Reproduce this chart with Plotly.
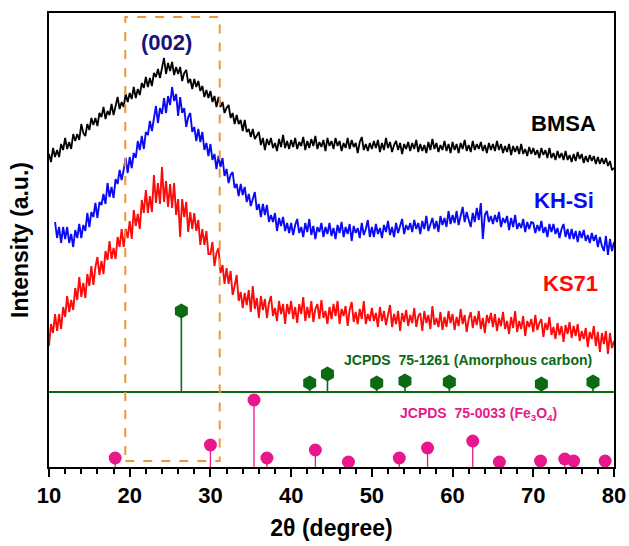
import plotly.graph_objects as go

# ---------------- data ----------------
SCAN_START = 10.0     # 2theta of first BMSA / KS71 sample
KHSI_START = 10.75    # KH-Si scan starts a bit later
SCAN_STEP = 0.25

bmsa = (
    [313,305,319,310,317,310,323,317,329,318,325,318,333,326,333,327,343,334,331,343]
  + [337,349,342,349,341,354,350,360,348,356,352,363,352,363,370,358,365,360,373,365]
  + [374,368,380,369,378,372,384,379,390,380,389,381,394,390,398,389,399,409,393,404]
  + [396,405,392,400,393,400,386,394,397,384,388,378,388,380,386,376,381,370,377,369]
  + [376,365,371,360,370,360,365,354,359,362,349,354,343,352,343,347,336,347,335,338]
  + [330,338,328,332,335,322,329,317,328,322,329,319,324,316,328,320,332,319,326,318]
  + [327,320,329,318,325,321,330,317,326,319,328,321,331,318,325,320,327,316,329,321]
  + [326,318,329,321,326,316,324,319,329,318,327,320,324,314,325,330,317,323,316,324]
  + [318,326,319,327,315,324,317,329,319,325,315,322,326,317,324,313,323,318,325,316]
  + [324,318,327,315,323,316,322,314,325,317,328,318,324,315,322,317,326,316,323,314]
  + [325,317,323,314,324,318,327,316,322,315,326,317,323,318,325,316,322,314,324,317]
  + [323,316,326,317,323,314,321,315,323,312,321,315,321,313,323,313,318,311,320,313]
  + [319,312,317,309,319,312,317,309,319,309,314,307,316,309,314,307,316,307,312,305]
  + [313,306,315,308,313,304,311,305,312,306,311,303,310,303,309,303,309,301,306,297]
  + [299]
)

khsi = (
    [245,229,240,224,240,228,240,224,233,220,237,229,243,229,242,236,254]
  + [240,255,250,264,249,265,262,273,263,284,270,280,269,288,283,297,287,297,309,294]
  + [310,299,314,309,326,317,331,318,335,332,346,336,347,361,344,359,353,369,354,371]
  + [362,380,366,373,351,370,354,359,340,350,354,335,340,326,338,325,335,317,324,311]
  + [323,307,313,298,311,300,309,291,298,284,292,295,279,283,271,283,272,280,265,273]
  + [261,269,275,257,263,250,263,252,262,245,252,245,254,236,249,241,250,236,244,234]
  + [244,232,242,248,234,240,230,244,235,248,232,241,228,240,235,244,230,240,233,244]
  + [231,239,228,242,234,245,230,240,233,243,226,241,234,239,229,244,232,238,247,230]
  + [240,230,243,233,239,229,242,235,246,232,240,230,244,234,240,248,233,242,237,244]
  + [235,247,238,244,233,246,238,251,236,244,249,238,246,235,251,242,249,240,256,243]
  + [252,244,256,242,251,260,245,255,247,240,254,245,259,247,264,228,252,256,245,251]
  + [243,252,245,255,240,249,244,251,237,249,240,252,238,244,239,248,235,245,238,245]
  + [244,234,242,236,246,234,240,230,243,235,243,233,239,229,238,243,230,238,228,238]
  + [228,236,225,236,229,237,226,232,224,234,226,232,220,230,221,216,231,212,228,216]
  + [225]
)

ks71 = (
    [121,143,134,153,136,153,138,160,150,171,155,167,157,179,167,190,170,184,169,193]
  + [181,201,182,200,210,192,206,193,216,207,226,208,219,208,230,220,238,220,238,229]
  + [246,228,257,241,253,238,267,254,277,254,271,255,292,264,284,263,300,265,286,260]
  + [283,259,284,252,268,230,268,250,265,235,255,238,254,236,247,222,238,222,236,213]
  + [213,225,201,214,219,194,202,183,199,183,196,172,181,192,166,175,159,174,162,177]
  + [155,181,158,169,149,171,157,168,149,164,171,151,159,146,166,153,163,143,163,153]
  + [166,148,160,144,163,153,170,146,160,149,166,145,158,163,148,167,149,156,143,160]
  + [148,163,151,166,143,158,151,161,141,157,165,145,155,143,158,148,166,143,153,146]
  + [159,146,154,140,160,146,156,142,152,162,140,153,143,156,136,154,145,157,141,152]
  + [144,159,140,151,154,136,156,144,152,138,161,142,149,140,155,137,150,140,156,144]
  + [153,137,150,141,158,143,152,135,148,155,139,151,142,156,138,149,134,152,144,154]
  + [140,153,136,149,141,155,138,146,133,150,139,156,135,146,138,151,131,146,140,148]
  + [135,152,137,144,148,130,144,137,150,132,140,128,144,132,141,125,142,133,145,129]
  + [141,131,143,126,136,128,139,120,135,128,141,121,135,115,134,123,136,113,134,119]
  + [126]
)

# JCPDS 75-1261 (amorphous carbon) reference lines
carbon_pos = [26.4, 42.3, 44.5, 50.6, 54.1, 59.6, 71.0, 77.4]
carbon_top = [156, 84, 93, 84, 86, 85, 83, 85]
carbon_base = 75

# JCPDS 75-0033 (Fe3O4) reference lines
fe_pos = [18.2, 30.0, 35.4, 37.0, 43.0, 47.1, 53.4, 56.9, 62.5, 65.8, 70.9, 73.9, 75.0, 78.9]
fe_top = [9, 22, 67, 9, 17, 5, 9, 19, 26, 5, 6, 8, 6, 6]
fe_base = 0

x_ticks = [10, 20, 30, 40, 50, 60, 70, 80]

# ---------------- helpers ----------------
def grid(start, n):
    return [start + SCAN_STEP * i for i in range(n)]

def stems(pos, top, base):
    xs, ys = [], []
    for p, t in zip(pos, top):
        xs += [p, p, None]
        ys += [base, t, None]
    return xs, ys

GREEN = "#0b6a12"
PINK = "#e8188c"
ORANGE = "#f0953a"
FONT = "Liberation Sans, Arial, sans-serif"

fig = go.Figure()

for vals, start, col, w in [(bmsa, SCAN_START, "#000000", 1.8),
                            (khsi, KHSI_START, "#0a0af5", 1.9),
                            (ks71, SCAN_START, "#ff0a0a", 1.9)]:
    fig.add_trace(go.Scatter(x=grid(start, len(vals)), y=vals, mode="lines",
                             line=dict(color=col, width=w), hoverinfo="skip"))

# carbon stems + hexagons
sx, sy = stems(carbon_pos, carbon_top, carbon_base)
fig.add_trace(go.Scatter(x=sx, y=sy, mode="lines", line=dict(color=GREEN, width=1.6)))
fig.add_trace(go.Scatter(x=carbon_pos, y=carbon_top, mode="markers",
                         marker=dict(symbol="hexagon", size=15, color=GREEN)))

# Fe3O4 stems + circles
sx, sy = stems(fe_pos, fe_top, fe_base)
fig.add_trace(go.Scatter(x=sx, y=sy, mode="lines", line=dict(color=PINK, width=1.3)))
fig.add_trace(go.Scatter(x=fe_pos, y=fe_top, mode="markers",
                         marker=dict(symbol="circle", size=13, color=PINK)))

# separator line at carbon baseline
fig.add_shape(type="line", xref="x", yref="y", x0=10, x1=80, y0=carbon_base, y1=carbon_base,
              line=dict(color=GREEN, width=2))
# dashed (002) box
fig.add_shape(type="rect", xref="x", yref="y", x0=19.45, x1=31.15, y0=6, y1=450,
              line=dict(color=ORANGE, width=2, dash="dash"))

def label(x, y, text, color, size):
    fig.add_annotation(x=x, y=y, xref="x", yref="y", text=f"<b>{text}</b>", showarrow=False,
                       font=dict(family=FONT, size=size, color=color),
                       xanchor="center", yanchor="middle")

label(24.6, 425, "(002)", "#15157a", 22)
label(73.7, 344, "BMSA", "#000000", 22)
label(73.8, 267, "KH-Si", "#0a0af5", 22)
label(74.6, 184, "KS71", "#ff0a0a", 22)
label(61.9, 107, "JCPDS&nbsp;&nbsp;75-1261 (Amorphous carbon)", GREEN, 14)
label(63.2, 53, "JCPDS&nbsp;&nbsp;75-0033 (Fe<sub>3</sub>O<sub>4</sub>)", PINK, 14)

fig.update_layout(
    width=629, height=546,
    margin=dict(l=49, r=15, t=13, b=79),
    paper_bgcolor="white", plot_bgcolor="white",
    showlegend=False,
    font=dict(family=FONT, color="black"),
    xaxis=dict(range=[10, 80], tickvals=x_ticks, ticktext=[f"<b>{t}</b>" for t in x_ticks],
               ticks="outside", ticklen=8, tickwidth=2, tickcolor="black",
               minor=dict(dtick=2, ticks="outside", ticklen=5, tickwidth=1.5, tickcolor="black"),
               showline=True, linewidth=2, linecolor="black", mirror=True,
               showgrid=False, zeroline=False, automargin=False,
               tickfont=dict(family=FONT, size=22, color="black"),
               title=dict(text="<b>2θ (degree)</b>", font=dict(family=FONT, size=23), standoff=12)),
    yaxis=dict(range=[0, 454], showticklabels=False, ticks="",
               showline=True, linewidth=2, linecolor="black", mirror=True,
               showgrid=False, zeroline=False, automargin=False,
               title=dict(text="<b>Intensity (a.u.)</b>", font=dict(family=FONT, size=23), standoff=12)),
)

fig.write_html("out.html", config={"displayModeBar": False},
               post_script="document.body.style.margin='0';document.body.style.overflow='hidden';")
